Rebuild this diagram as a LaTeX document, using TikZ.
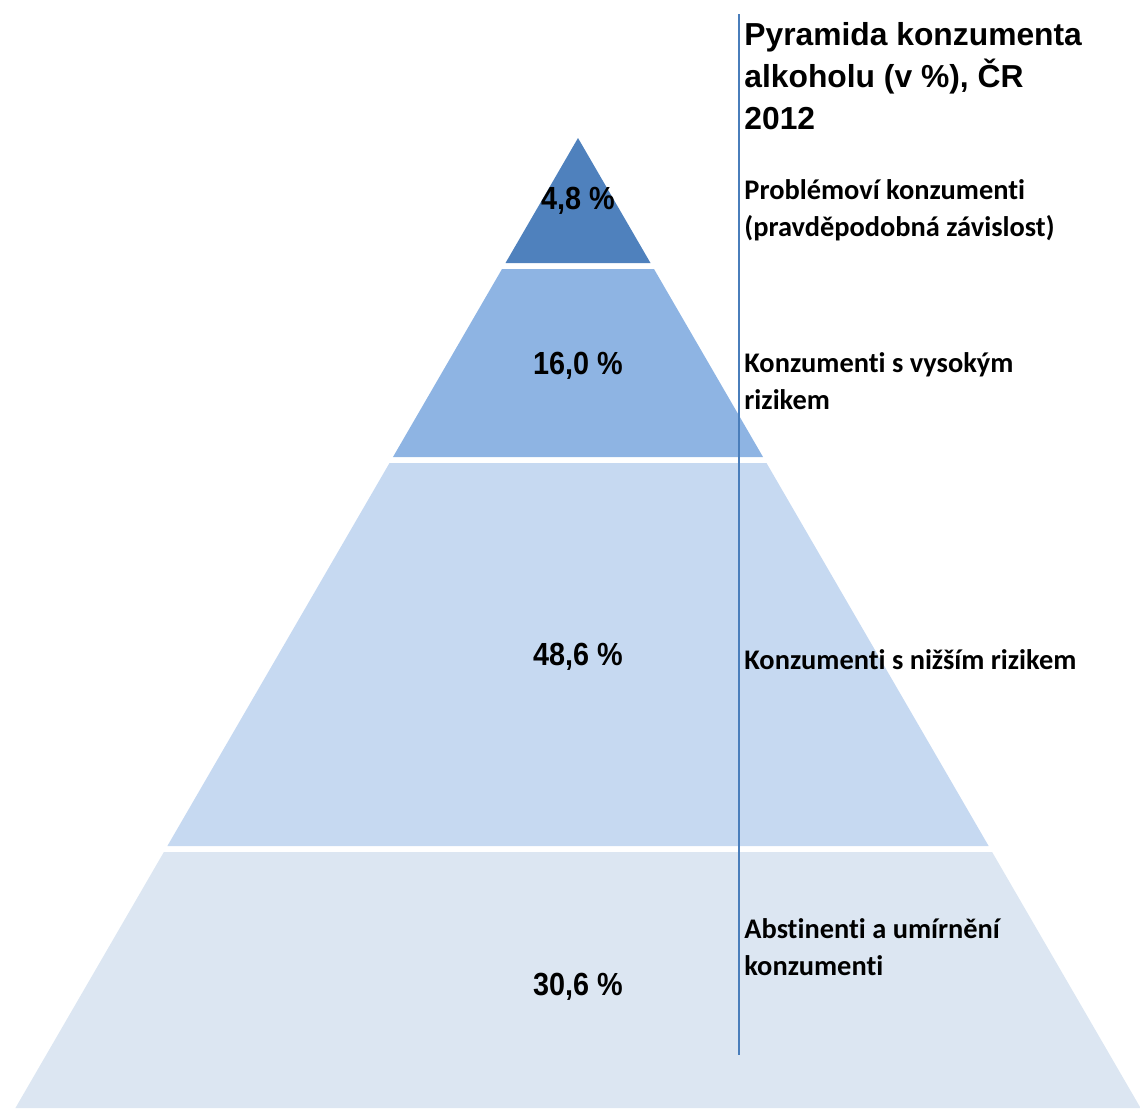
\documentclass[tikz,border=0pt]{standalone}
\usepackage{fontspec}
\setmainfont{Carlito}[Ligatures=NoCommon]
\newfontfamily\titlefont{Liberation Sans}
\newfontfamily\pctfont[FakeStretch=0.9]{Liberation Sans}
\definecolor{lvlA}{HTML}{4F81BD}
\definecolor{lvlB}{HTML}{8EB4E3}
\definecolor{lvlC}{HTML}{C6D9F1}
\definecolor{lvlD}{HTML}{DCE6F2}
\definecolor{axisblue}{HTML}{4A7EBB}
\tikzset{
  pct/.style={font=\pctfont\bfseries\fontsize{16}{19}\selectfont,anchor=base,inner sep=0pt},
  lbl/.style={font=\bfseries\fontsize{14.2}{18.5}\selectfont,anchor=base west,align=left,inner sep=0pt},
  ttl/.style={font=\titlefont\bfseries\fontsize{15.9}{21}\selectfont,anchor=base west,align=left,inner sep=0pt}
}
\begin{document}
\begin{tikzpicture}[x=0.5pt,y=-0.5pt]
        \useasboundingbox (0,0) rectangle (1140,1108);
        % layers of the pyramid, apex at (578,138)
        \foreach \ya/\yb/\col in {138/263/lvlA,269/457/lvlB,463/846/lvlC,852/1108/lvlD}
          \fill[\col] ({578-0.58*(\ya-138)},\ya)--({578+0.58*(\ya-138)},\ya)--({578+0.58*(\yb-138)},\yb)--({578-0.58*(\yb-138)},\yb)--cycle;
        \draw[axisblue,line width=1pt] (739,14)coordinate(lt)--(739,1055)coordinate(lb);
        \node[pct] (p1) at (578,209) {4,8 \%};
        \node[pct] (p2) at (578,374) {16,0 \%};
        \node[pct] (p3) at (578,665) {48,6 \%};
        \node[pct] (p4) at (578,995) {30,6 \%};
        % base anchor = baseline of the last line
        \node[ttl] (title) at (744,129) {Pyramida konzumenta\\alkoholu (v \%), ČR\\2012};
        \node[lbl] (l1) at (744,236) {Problémoví konzumenti\\(pravděpodobná závislost)};
        \node[lbl] (l2) at (744,409) {Konzumenti s vysokým\\rizikem};
        \node[lbl] (l3) at (744,669) {Konzumenti s nižším rizikem};
        \node[lbl] (l4) at (744,975) {Abstinenti a umírnění\\konzumenti};
\end{tikzpicture}
\end{document}
